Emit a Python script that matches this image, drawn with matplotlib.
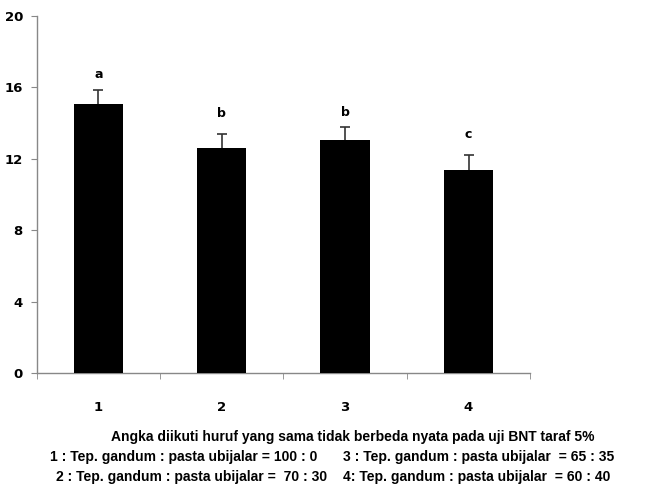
import matplotlib
matplotlib.use('Agg')
import matplotlib.pyplot as plt
from matplotlib.ticker import MultipleLocator, FixedLocator
import numpy as np

categories = ['1', '2', '3', '4']
means = [15.07, 12.59, 13.03, 11.37]
errors = [0.78, 0.82, 0.77, 0.83]
letters = ['a', 'b', 'b', 'c']
letter_y = [16.72, 14.56, 14.62, 13.35]

note_title = 'Angka diikuti huruf yang sama tidak berbeda nyata pada uji BNT taraf 5%'
notes_left = ['1 : Tep. gandum : pasta ubijalar = 100 : 0',
              '2 : Tep. gandum : pasta ubijalar =  70 : 30']
notes_right = ['3 : Tep. gandum : pasta ubijalar  = 65 : 35',
               '4: Tep. gandum : pasta ubijalar  = 60 : 40']

fig = plt.figure(figsize=(6.45, 4.86), dpi=100)
ax = fig.add_axes([0.057, 0.2325, 0.765, 0.7345])

x = np.arange(len(categories))
m = np.array(means)
e = np.array(errors)
ax.bar(x, m, width=0.4, color='black', zorder=3)
# upper error only: stem + top cap
ax.vlines(x, m, m + e, colors='#333333', lw=1.2, zorder=2)
ax.plot(x, m + e, ls='none', marker='_', ms=7, mew=1.2, color='#333333', zorder=2)
for xi, lab, ly in zip(x, letters, letter_y):
    ax.text(xi, ly, lab, ha='center', va='center', fontsize=9, fontweight='bold')

ax.set_xlim(-0.5, len(categories) - 0.5)
ax.set_ylim(0, 20)
ax.yaxis.set_major_locator(MultipleLocator(4))
ax.set_xticks(x)
ax.set_xticklabels(categories)
ax.xaxis.set_minor_locator(FixedLocator(np.arange(-0.5, len(categories), 1.0)))
ax.tick_params(axis='x', which='major', length=0, pad=20)
ax.tick_params(axis='x', which='minor', length=4, color='#888888')
ax.tick_params(axis='y', length=4, color='#888888', pad=6)
for lbl in ax.get_xticklabels() + ax.get_yticklabels():
    lbl.set_fontweight('bold')
    lbl.set_fontsize(9.5)

for s in ['top', 'right']:
    ax.spines[s].set_visible(False)
for s in ['left', 'bottom']:
    ax.spines[s].set_color('#888888')
    ax.spines[s].set_linewidth(1.0)

fnt = dict(fontsize=10, fontweight='bold', family='Liberation Sans')
fig.text(353 / 645, 1 - 437 / 486, note_title, ha='center', va='center', **fnt)
for i, (l, r) in enumerate(zip(notes_left, notes_right)):
    yy = 1 - (457 + 20 * i) / 486
    fig.text((50 + 6 * i) / 645, yy, l, ha='left', va='center', **fnt)
    fig.text(343 / 645, yy, r, ha='left', va='center', **fnt)

plt.savefig('out.png', dpi=100)
plt.close()
